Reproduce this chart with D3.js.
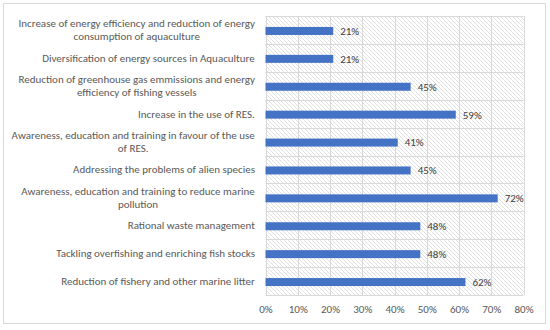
<!DOCTYPE html>
<html><head><meta charset="utf-8">
<script src="https://cdn.jsdelivr.net/npm/d3@7"></script>
<style>body{margin:0;background:#fff}svg{display:block}</style>
</head><body>
<svg id="c" width="550" height="330"></svg>
<script>
const categories = [
  ["Increase of energy efficiency and reduction of energy","consumption of aquaculture"],
  ["Diversification of energy sources in Aquaculture"],
  ["Reduction of greenhouse gas emmissions and energy","efficiency of fishing vessels"],
  ["Increase in the use of RES."],
  ["Awareness, education and training in favour of the use","of RES."],
  ["Addressing the problems of alien species"],
  ["Awareness, education and training to reduce marine","pollution"],
  ["Rational waste management"],
  ["Tackling overfishing and enriching fish stocks"],
  ["Reduction of fishery and other marine litter"]
];
const values = [21, 21, 45, 59, 41, 45, 72, 48, 48, 62];
const ticks = [0, 10, 20, 30, 40, 50, 60, 70, 80];

(function(){
const svg = d3.select("#c");
const font = "Carlito, Calibri, 'Liberation Sans', Arial, sans-serif";
const pl = 265.5, pr = 523.5, pt = 16, pb = 295;

svg.append("rect").attr("x",3.5).attr("y",3.5).attr("width",542).attr("height",320)
  .attr("fill","#fff").attr("stroke","#d9d9d9");

const defs = svg.append("defs");
const pat = defs.append("pattern").attr("id","hatch").attr("patternUnits","userSpaceOnUse")
  .attr("width",4).attr("height",4);
pat.append("path").attr("d","M-1,-1 L5,5 M-1,3 L1,5 M3,-1 L5,1")
  .attr("stroke","#e0e0e0").attr("stroke-width",1);

const x = d3.scaleLinear().domain([0,80]).range([pl,pr]);
const y = d3.scaleBand().domain(d3.range(categories.length)).range([pt,pb]);

svg.append("rect").attr("x",pl).attr("y",pt).attr("width",pr-pl).attr("height",pb-pt)
  .attr("fill","url(#hatch)");

svg.append("g").selectAll("line").data(ticks).join("line")
  .attr("x1",d=>Math.round(x(d))+0.5).attr("x2",d=>Math.round(x(d))+0.5)
  .attr("y1",pt).attr("y2",pb).attr("stroke","#d9d9d9");
svg.append("g").selectAll("line").data(d3.range(categories.length+1)).join("line")
  .attr("x1",pl).attr("x2",pr)
  .attr("y1",i=>Math.round(pt+i*y.step())+0.5).attr("y2",i=>Math.round(pt+i*y.step())+0.5)
  .attr("stroke","#d9d9d9");

const bh = 8;
svg.append("g").selectAll("rect").data(values).join("rect")
  .attr("x",x(0)).attr("y",(d,i)=>y(i)+y.bandwidth()/2-bh/2+1)
  .attr("width",d=>x(d)-x(0)).attr("height",bh).attr("fill","#4472C4");

svg.append("g").selectAll("text").data(values).join("text")
  .attr("x",d=>x(d)+7).attr("y",(d,i)=>y(i)+y.bandwidth()/2+1)
  .attr("dy","0.35em").attr("font-family",font).attr("font-size",11).attr("fill","#404040")
  .text(d=>d+"%");

const lab = svg.append("g");
categories.forEach((lines,i)=>{
  const cy = y(i)+y.bandwidth()/2;
  const lh = 13;
  const t = lab.append("text").attr("font-family",font).attr("font-size",11).attr("fill","#595959")
    .attr("text-anchor","middle");
  lines.forEach((l,j)=>{
    t.append("tspan").attr("x",0).attr("y",cy + (j-(lines.length-1)/2)*lh).attr("dy","0.35em").text(l);
  });
  const bb = t.node().getBBox();
  t.attr("transform",`translate(${255 - bb.width/2},0)`);
});

const axis = d3.axisBottom(x).tickValues(ticks).tickFormat(d=>d+"%").tickSize(0).tickPadding(10);
const ga = svg.append("g").attr("transform",`translate(0,${pb})`).call(axis);
ga.select(".domain").remove();
ga.selectAll("text").attr("font-family",font).attr("font-size",11).attr("fill","#595959");
})();
</script>
</body></html>
